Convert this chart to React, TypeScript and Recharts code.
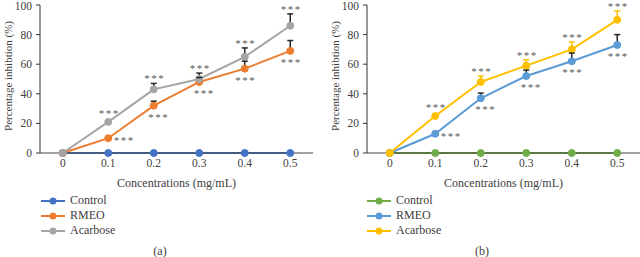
import { LineChart, Line, XAxis, YAxis, ErrorBar, LabelList } from 'recharts';

const concentrations = ['0', '0.1', '0.2', '0.3', '0.4', '0.5'];
const yTicks = [0, 20, 40, 60, 80, 100];

// panel (a)
const controlA = [0, 0, 0, 0, 0, 0];
const rmeoA = [0, 10, 32, 48, 57, 69];
const rmeoErrA = [0, 0, 3, 3, 5, 7];
const acarboseA = [0, 21, 43, 50, 65, 86];
const acarboseErrA = [0, 0, 4, 4, 6, 8];

// panel (b)
const controlB = [0, 0, 0, 0, 0, 0];
const rmeoB = [0, 13, 37, 52, 62, 73];
const rmeoErrB = [0, 0, 3.5, 4, 5.5, 7];
const acarboseB = [0, 25, 48, 59, 70, 90];
const acarboseErrB = [0, 0, 4, 4, 5, 6];

// significance vs control
const rmeoSig = ['', '***', '***', '***', '***', '***'];
const acarboseSig = ['', '***', '***', '***', '***', '***'];

const FONT = '"Liberation Serif", "Times New Roman", serif';
const TEXT = '#404040';
const STAR = '#595959';
const CHART_H = 190;
const TOP = 5;
const X_AXIS_H = 37;
const PLOT_H = CHART_H - TOP - X_AXIS_H;
const PX_PER_UNIT = PLOT_H / 100;

type Palette = { control: string; rmeo: string; acarbose: string; rmeoErr: string; acarboseErr: string };

const paletteA: Palette = { control: '#4472C4', rmeo: '#ED7D31', acarbose: '#A5A5A5', rmeoErr: '#262626', acarboseErr: '#262626' };
const paletteB: Palette = { control: '#70AD47', rmeo: '#5B9BD5', acarbose: '#FFC000', rmeoErr: '#262626', acarboseErr: '#FFC000' };

function buildRows(control: number[], rmeo: number[], rmeoErr: number[], acarbose: number[], acarboseErr: number[]) {
  return concentrations.map((conc, i) => ({
    conc,
    control: control[i],
    rmeo: rmeo[i],
    acarbose: acarbose[i],
    // upper-only error bars: a stem hanging down from value + err, capped at the top
    rmeoTop: rmeoErr[i] ? rmeo[i] + rmeoErr[i] : null,
    rmeoStem: [rmeoErr[i], 0],
    acarboseTop: acarboseErr[i] ? acarbose[i] + acarboseErr[i] : null,
    acarboseStem: [acarboseErr[i], 0],
    rmeoSig: rmeoSig[i],
    acarboseSig: acarboseSig[i],
  }));
}

const dataA = buildRows(controlA, rmeoA, rmeoErrA, acarboseA, acarboseErrA);
const dataB = buildRows(controlB, rmeoB, rmeoErrB, acarboseB, acarboseErrB);

function Stars({ x, y, text }: { x: number; y: number; text: string }) {
  // asterisk glyph sits ~half an em above the baseline
  return (
    <text x={x} y={y + 5} textAnchor="middle" fontSize={11} letterSpacing={1.5} fill={STAR} style={{ fontFamily: FONT }}>
      {text}
    </text>
  );
}

// stars over the upper series, cleared above its error bar
const starsAbove = (errs: number[]) => (props: any) => {
  const x = props.x ?? props.viewBox?.x;
  const y = props.y ?? props.viewBox?.y;
  const { value, index } = props;
  if (!value) return null;
  const lift = Math.max(errs[index] * PX_PER_UNIT + 6, 10);
  return <Stars x={x + 1} y={y - lift} text={value} />;
};

// stars under the lower series; the first one sits to the right of the point
const starsBelow = (props: any) => {
  const x = props.x ?? props.viewBox?.x;
  const y = props.y ?? props.viewBox?.y;
  const { value, index } = props;
  if (!value) return null;
  if (index === 1) return <Stars x={x + 16} y={y + 1} text={value} />;
  return <Stars x={x + (index < 4 ? 5 : 1)} y={y + 10} text={value} />;
};

const capShape = (color: string) => (props: any) => {
  const { cx, cy, index } = props;
  if (cx == null || cy == null) return <g key={index} />;
  return <line key={index} x1={cx - 3} x2={cx + 3} y1={cy} y2={cy} stroke={color} strokeWidth={1.5} />;
};

function Panel({ data, palette, yWidth, right, acarboseErr }: any) {
  const dot = (c: string) => ({ r: 3.5, fill: c, stroke: c, strokeWidth: 1 });
  const tick = { fill: TEXT, fontSize: 11.5, style: { fontFamily: FONT } };
  return (
    <LineChart width={320} height={CHART_H} data={data} margin={{ top: TOP, right, bottom: 0, left: 0 }} style={{ fontFamily: FONT }}>
      <XAxis
        dataKey="conc"
        height={X_AXIS_H}
        padding={{ left: 22.75, right: 22.75 }}
        tickLine={false}
        tickSize={4}
        stroke="#444"
        tick={tick}
        label={{ value: 'Concentrations (mg/mL)', position: 'insideBottom', offset: 3, fill: TEXT, fontSize: 12, style: { fontFamily: FONT } }}
      />
      <YAxis
        width={yWidth}
        domain={[0, 100]}
        ticks={yTicks}
        tickSize={4}
        tickMargin={4}
        stroke="#333"
        tick={tick}
        label={{ value: 'Percentage inhibtion (%)', angle: -90, position: 'insideLeft', offset: yWidth - 32, dy: -3, fill: TEXT, fontSize: 11, style: { textAnchor: 'middle', fontFamily: FONT } }}
      />
      <Line dataKey="control" stroke={palette.control} strokeWidth={2} dot={dot(palette.control)} isAnimationActive={false} />
      <Line dataKey="rmeo" stroke={palette.rmeo} strokeWidth={2} dot={dot(palette.rmeo)} isAnimationActive={false}>
        <LabelList dataKey="rmeoSig" content={starsBelow} />
      </Line>
      <Line dataKey="acarbose" stroke={palette.acarbose} strokeWidth={2} dot={dot(palette.acarbose)} isAnimationActive={false}>
        <LabelList dataKey="acarboseSig" content={starsAbove(acarboseErr)} />
      </Line>
      {/* error bars: invisible series at value + err, cap drawn as the dot */}
      <Line dataKey="rmeoTop" stroke="none" dot={capShape(palette.rmeoErr)} activeDot={false} isAnimationActive={false}>
        <ErrorBar dataKey="rmeoStem" direction="y" width={0} strokeWidth={1.5} stroke={palette.rmeoErr} />
      </Line>
      <Line dataKey="acarboseTop" stroke="none" dot={capShape(palette.acarboseErr)} activeDot={false} isAnimationActive={false}>
        <ErrorBar dataKey="acarboseStem" direction="y" width={0} strokeWidth={1.5} stroke={palette.acarboseErr} />
      </Line>
    </LineChart>
  );
}

function Legend({ left, palette }: { left: number; palette: Palette }) {
  const items = [
    { name: 'Control', color: palette.control },
    { name: 'RMEO', color: palette.rmeo },
    { name: 'Acarbose', color: palette.acarbose },
  ];
  return (
    <div style={{ position: 'absolute', left, top: 193 }}>
      {items.map((it) => (
        <div key={it.name} style={{ display: 'flex', alignItems: 'center', height: 15 }}>
          <svg width={24} height={10} style={{ marginRight: 5 }}>
            <line x1={0} y1={5} x2={24} y2={5} stroke={it.color} strokeWidth={2} />
            <circle cx={12} cy={5} r={3.5} fill={it.color} />
          </svg>
          <span style={{ fontSize: 12, color: TEXT, lineHeight: '15px' }}>{it.name}</span>
        </div>
      ))}
    </div>
  );
}

function Caption({ left, text }: { left: number; text: string }) {
  return (
    <div style={{ position: 'absolute', left: left - 20, top: 244, width: 40, textAlign: 'center', fontSize: 12, color: TEXT, lineHeight: '14px' }}>
      {text}
    </div>
  );
}

export default function App() {
  return (
    <div style={{ position: 'absolute', left: 0, top: 0, width: 640, height: 257, background: '#fff', overflow: 'hidden', fontFamily: FONT }}>
      <div style={{ position: 'absolute', left: 0, top: 0 }}>
        <Panel data={dataA} palette={paletteA} yWidth={40} right={7} acarboseErr={acarboseErrA} />
      </div>
      <div style={{ position: 'absolute', left: 320, top: 0 }}>
        <Panel data={dataB} palette={paletteB} yWidth={47} right={0} acarboseErr={acarboseErrB} />
      </div>
      <Legend left={41} palette={paletteA} />
      <Legend left={367} palette={paletteB} />
      <Caption left={160} text="(a)" />
      <Caption left={482} text="(b)" />
    </div>
  );
}
